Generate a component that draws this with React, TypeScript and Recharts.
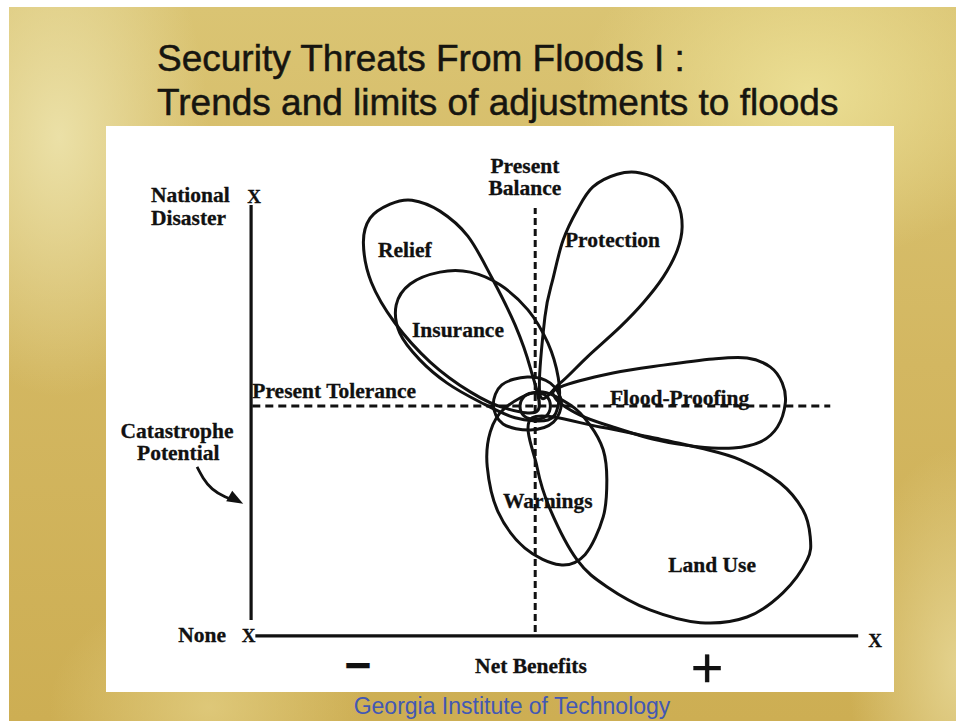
import React from 'react';
import { ComposedChart, Line, XAxis, YAxis, ReferenceLine, Scatter } from 'recharts';

type Pt = { x: number; y: number };
type Lbl = { x: number; y: number; label: string };

// Axes units: Net Benefits 0..100 along the horizontal axis, Catastrophe Potential 0..100 up the vertical axis
const X_DOMAIN: [number, number] = [-23.9, 105.9];
const Y_DOMAIN: [number, number] = [-12.8, 116.2];

const PRESENT_BALANCE = 46.8;
const PRESENT_TOLERANCE = 52.4;

const reliefLobe: Pt[] = [
  { x: 47.3, y: 51.5 }, { x: 41.8, y: 51.9 }, { x: 36.1, y: 55.6 }, { x: 29.5, y: 62.4 },
  { x: 23.7, y: 71.3 }, { x: 19.8, y: 80.6 }, { x: 18.5, y: 89.5 }, { x: 19.6, y: 95.2 },
  { x: 22.9, y: 98.4 }, { x: 26.5, y: 99.3 }, { x: 31.1, y: 96.8 }, { x: 35.7, y: 91.1 },
  { x: 39.7, y: 81.5 }, { x: 43.5, y: 70.8 }, { x: 46.0, y: 61.0 },
];

const insuranceLobe: Pt[] = [
  { x: 48.9, y: 49.2 }, { x: 43.5, y: 49.7 }, { x: 37.7, y: 53.3 }, { x: 32.3, y: 57.6 },
  { x: 27.8, y: 62.9 }, { x: 24.5, y: 69.0 }, { x: 23.9, y: 75.4 }, { x: 26.2, y: 80.2 },
  { x: 31.1, y: 82.9 }, { x: 36.1, y: 82.9 }, { x: 41.0, y: 80.0 }, { x: 45.6, y: 74.3 },
  { x: 48.9, y: 66.7 }, { x: 50.6, y: 58.8 }, { x: 50.6, y: 52.6 },
];

const protectionLobe: Pt[] = [
  { x: 47.6, y: 54.9 }, { x: 48.4, y: 72.7 }, { x: 49.8, y: 81.8 }, { x: 51.4, y: 90.2 },
  { x: 53.7, y: 97.0 }, { x: 56.3, y: 102.3 }, { x: 60.3, y: 105.2 }, { x: 64.1, y: 105.5 },
  { x: 67.9, y: 103.2 }, { x: 70.3, y: 98.6 }, { x: 71.0, y: 93.2 }, { x: 70.2, y: 87.9 },
  { x: 67.9, y: 81.8 }, { x: 64.6, y: 75.9 }, { x: 60.8, y: 70.4 }, { x: 55.4, y: 63.6 },
  { x: 50.9, y: 57.6 },
];

const floodProofingLobe: Pt[] = [
  { x: 50.1, y: 54.2 }, { x: 50.9, y: 56.7 }, { x: 59.6, y: 59.9 }, { x: 67.9, y: 61.7 },
  { x: 76.1, y: 63.1 }, { x: 81.7, y: 63.3 }, { x: 85.5, y: 61.3 }, { x: 87.5, y: 57.6 },
  { x: 88.0, y: 53.1 }, { x: 86.7, y: 47.6 }, { x: 83.9, y: 44.2 }, { x: 79.4, y: 42.8 },
  { x: 73.5, y: 43.1 }, { x: 66.9, y: 44.6 }, { x: 59.6, y: 47.6 }, { x: 54.2, y: 50.3 },
];

const landUseLobe: Pt[] = [
  { x: 46.3, y: 49.7 }, { x: 57.5, y: 47.6 }, { x: 65.7, y: 45.3 }, { x: 74.0, y: 42.8 },
  { x: 80.6, y: 40.1 }, { x: 87.1, y: 34.9 }, { x: 90.9, y: 28.7 }, { x: 92.1, y: 22.6 },
  { x: 91.6, y: 17.3 }, { x: 87.6, y: 9.8 }, { x: 81.7, y: 4.3 }, { x: 74.0, y: 3.0 },
  { x: 65.7, y: 5.9 }, { x: 58.6, y: 11.2 }, { x: 53.7, y: 17.3 }, { x: 49.3, y: 28.7 },
  { x: 47.1, y: 38.5 },
];

const warningsLobe: Pt[] = [
  { x: 47.3, y: 55.6 }, { x: 52.6, y: 52.6 }, { x: 55.8, y: 48.1 }, { x: 58.0, y: 42.4 },
  { x: 58.6, y: 35.5 }, { x: 58.0, y: 27.1 }, { x: 55.0, y: 18.5 }, { x: 50.9, y: 16.2 },
  { x: 45.1, y: 20.0 }, { x: 40.7, y: 28.2 }, { x: 38.9, y: 38.5 }, { x: 39.4, y: 46.5 },
  { x: 41.8, y: 51.9 },
];

const outerRing: Pt[] = [
  { x: 39.9, y: 52.6 }, { x: 41.3, y: 57.2 }, { x: 45.5, y: 59.0 }, { x: 49.3, y: 57.6 },
  { x: 51.1, y: 53.3 }, { x: 49.8, y: 48.7 }, { x: 46.0, y: 46.9 }, { x: 41.5, y: 48.3 },
];

const innerRing: Pt[] = [
  { x: 44.3, y: 52.4 }, { x: 45.1, y: 54.7 }, { x: 46.8, y: 55.4 }, { x: 48.6, y: 54.7 },
  { x: 49.3, y: 52.4 }, { x: 48.6, y: 50.1 }, { x: 46.8, y: 49.4 }, { x: 45.0, y: 50.1 },
];

const arrowPath: Pt[] = [
  { x: -8.9, y: 38.5 }, { x: -7.9, y: 36.0 }, { x: -6.4, y: 33.5 }, { x: -4.3, y: 31.7 }, { x: -2.5, y: 30.8 },
];
const arrowTip: Pt[] = [{ x: -1.3, y: 30.1 }];

const lobes = [reliefLobe, insuranceLobe, protectionLobe, floodProofingLobe, landUseLobe, warningsLobe, outerRing, innerRing];

const leftLabels: Lbl[] = [
  { label: 'Relief', x: 20.9, y: 86.3 },
  { label: 'Insurance', x: 26.5, y: 68.1 },
  { label: 'Protection', x: 51.7, y: 88.6 },
  { label: 'Flood-Proofing', x: 59.1, y: 52.6 },
  { label: 'Warnings', x: 41.5, y: 29.2 },
  { label: 'Land Use', x: 68.7, y: 14.6 },
  { label: 'Present Tolerance', x: 0.2, y: 54.2 },
  { label: 'National', x: -16.5, y: 98.9 },
  { label: 'Disaster', x: -16.5, y: 93.6 },
  { label: 'None', x: -12.0, y: -1.4 },
  { label: 'Net Benefits', x: 36.9, y: -8.4 },
];

const centeredLabels: Lbl[] = [
  { label: 'Present', x: 45.1, y: 105.5 },
  { label: 'Balance', x: 45.1, y: 100.5 },
  { label: 'Catastrophe', x: -12.2, y: 45.1 },
  { label: 'Potential', x: -12.0, y: 40.1 },
];

const axisEnds: Lbl[] = [
  { label: 'X', x: 0.5, y: 98.6 },
  { label: 'X', x: -0.4, y: -1.4 },
  { label: 'X', x: 102.8, y: -2.5 },
];

const minusSign: Lbl[] = [{ label: '\u2212', x: 17.6, y: -10.3 }];
const plusSign: Lbl[] = [{ label: '+', x: 75.1, y: -11.6 }];

const SERIF = '"Liberation Serif", "Times New Roman", serif';
const SANS = '"Liberation Sans", Arial, sans-serif';
const INK = '#111';

// Closed Catmull-Rom curve through every point
const closedCurve = (context: any) => {
  let pts: number[][] = [];
  return {
    areaStart() {},
    areaEnd() {},
    lineStart() { pts = []; },
    point(x: number, y: number) { pts.push([+x, +y]); },
    lineEnd() {
      const n = pts.length;
      if (!n) return;
      context.moveTo(pts[0][0], pts[0][1]);
      for (let i = 0; i < n; i++) {
        const p0 = pts[(i - 1 + n) % n];
        const p1 = pts[i];
        const p2 = pts[(i + 1) % n];
        const p3 = pts[(i + 2) % n];
        context.bezierCurveTo(
          p1[0] + (p2[0] - p0[0]) / 6, p1[1] + (p2[1] - p0[1]) / 6,
          p2[0] - (p3[0] - p1[0]) / 6, p2[1] - (p3[1] - p1[1]) / 6,
          p2[0], p2[1],
        );
      }
      context.closePath();
    },
  };
};

const textShape = (anchor: string, size: number, family: string, weight: string) => (p: any) => (
  <text
    x={p.cx}
    y={p.cy}
    textAnchor={anchor}
    fontSize={size}
    fontFamily={family}
    fontWeight={weight}
    fill={INK}
    stroke={INK}
    strokeWidth={0.3}
  >
    {p.payload.label}
  </text>
);

const arrowHead = (p: any) => (
  <polygon
    points={`${p.cx},${p.cy} ${p.cx - 17},${p.cy - 2.5} ${p.cx - 11},${p.cy - 13}`}
    fill={INK}
  />
);

export default function App() {
  const bgImage = [
    'radial-gradient(ellipse 230px 170px at 800px 85px, rgba(236,224,150,0.95), rgba(236,224,150,0))',
    'radial-gradient(ellipse 150px 260px at 50px 130px, rgba(236,226,170,0.95), rgba(236,226,170,0))',
    'radial-gradient(ellipse 110px 220px at 950px 660px, rgba(230,214,148,0.9), rgba(230,214,148,0))',
    'radial-gradient(ellipse 160px 120px at 200px 700px, rgba(226,206,130,0.8), rgba(226,206,130,0))',
    'linear-gradient(180deg, #dac473 0%, #d3b761 50%, #cdae53 100%)',
  ].join(',');

  return (
    <div style={{ position: 'absolute', left: 0, top: 0, width: 956, height: 721, background: '#fff', overflow: 'hidden' }}>
      <div style={{ position: 'absolute', left: 9, top: 7, width: 947, height: 714, backgroundImage: bgImage }} />
      <div style={{ position: 'absolute', left: 106, top: 126, width: 788, height: 566, background: '#fff' }} />
      <svg width={956} height={721} style={{ position: 'absolute', left: 0, top: 0 }}>
        <text x={157} y={71} fontFamily={SANS} fontSize={37} fill="#161510" stroke="#161510" strokeWidth={0.5}>Security Threats From Floods I :</text>
        <text x={157} y={115} fontFamily={SANS} fontSize={37} fill="#161510" stroke="#161510" strokeWidth={0.5}>Trends and limits of adjustments to floods</text>
        <text x={512} y={714} textAnchor="middle" fontFamily={SANS} fontSize={23} fill="#4258b4">Georgia Institute of Technology</text>
      </svg>
      <div style={{ position: 'absolute', left: 0, top: 0 }}>
        <ComposedChart width={956} height={721} margin={{ top: 126, right: 62, bottom: 29, left: 106 }}>
          <XAxis type="number" dataKey="x" domain={X_DOMAIN} allowDataOverflow hide />
          <YAxis type="number" dataKey="y" domain={Y_DOMAIN} allowDataOverflow hide />
          <ReferenceLine
            segment={[{ x: PRESENT_BALANCE, y: 0.9 }, { x: PRESENT_BALANCE, y: 97.5 }]}
            stroke={INK} strokeWidth={3} strokeDasharray="7 4"
          />
          <ReferenceLine
            segment={[{ x: 0.2, y: PRESENT_TOLERANCE }, { x: 95.4, y: PRESENT_TOLERANCE }]}
            stroke={INK} strokeWidth={3} strokeDasharray="8 5"
          />
          <ReferenceLine segment={[{ x: 0, y: 3.6 }, { x: 0, y: 98.2 }]} stroke={INK} strokeWidth={3.2} />
          <ReferenceLine segment={[{ x: 0.7, y: 0 }, { x: 100, y: 0 }]} stroke={INK} strokeWidth={3.2} />
          {lobes.map((d, i) => (
            <Line
              key={i}
              data={d}
              dataKey="y"
              type={closedCurve as any}
              stroke={INK}
              strokeWidth={3}
              fill="none"
              dot={false}
              activeDot={false}
              isAnimationActive={false}
            />
          ))}
          <Line data={arrowPath} dataKey="y" type="natural" stroke={INK} strokeWidth={2.8} dot={false} activeDot={false} isAnimationActive={false} />
          <Scatter data={arrowTip} dataKey="y" shape={arrowHead} isAnimationActive={false} />
          <Scatter data={leftLabels} dataKey="y" shape={textShape('start', 21.5, SERIF, 'bold')} isAnimationActive={false} />
          <Scatter data={centeredLabels} dataKey="y" shape={textShape('middle', 21.5, SERIF, 'bold')} isAnimationActive={false} />
          <Scatter data={axisEnds} dataKey="y" shape={textShape('middle', 19, SERIF, 'bold')} isAnimationActive={false} />
          <Scatter data={minusSign} dataKey="y" shape={textShape('middle', 46, SANS, 'bold')} isAnimationActive={false} />
          <Scatter data={plusSign} dataKey="y" shape={textShape('middle', 56, SANS, 'normal')} isAnimationActive={false} />
        </ComposedChart>
      </div>
    </div>
  );
}
